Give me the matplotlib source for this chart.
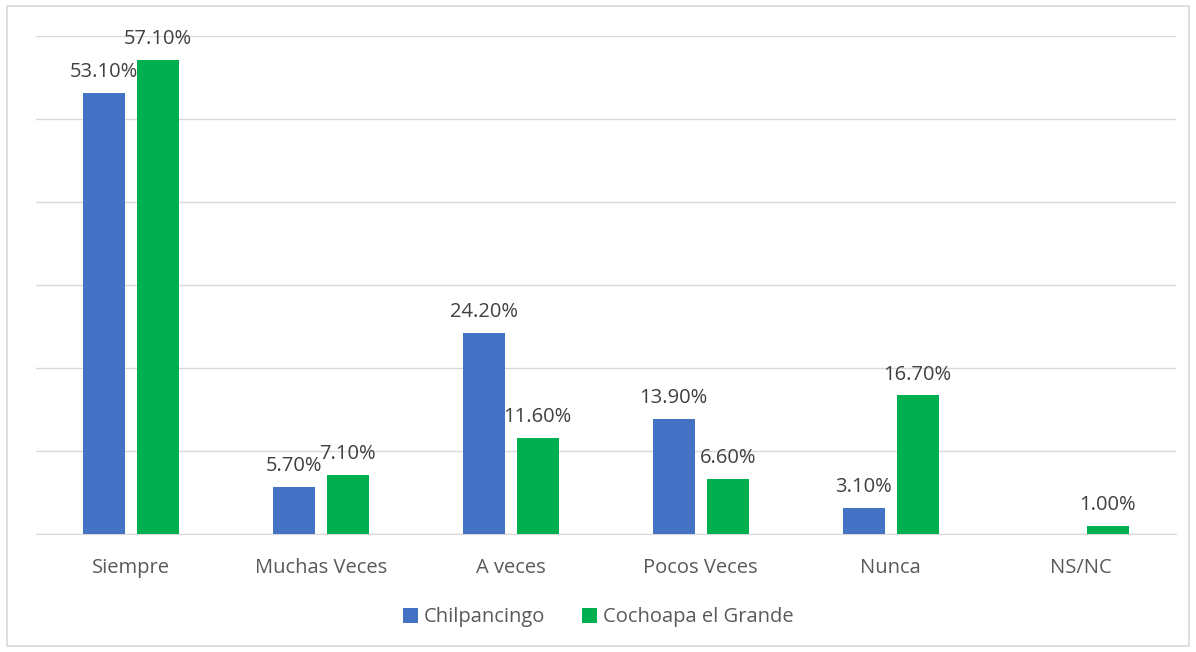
import matplotlib.pyplot as plt
import matplotlib.patches as patches
import numpy as np

categorias = ['Siempre', 'Muchas Veces', 'A veces', 'Pocos Veces', 'Nunca', 'NS/NC']
chilpancingo = [53.1, 5.7, 24.2, 13.9, 3.1, None]
cochoapa = [57.1, 7.1, 11.6, 6.6, 16.7, 1.0]
series = ['Chilpancingo', 'Cochoapa el Grande']

plt.rcParams['font.family'] = ['Open Sans', 'DejaVu Sans']

fig = plt.figure(figsize=(11.96, 6.52), dpi=100)
ax = fig.add_axes([0.030, 0.181, 0.953, 0.764])

x = np.arange(len(categorias))
w = 0.221
off = 0.142
colors = ['#4472C4', '#00B050']
fs = 14.5

for vals, sign, color, name in [(chilpancingo, -1, colors[0], series[0]), (cochoapa, 1, colors[1], series[1])]:
    xs = [xi + sign * off for xi, v in zip(x, vals) if v is not None]
    hs = [v for v in vals if v is not None]
    bars = ax.bar(xs, hs, width=w, color=color, label=name, zorder=3)
    for b, v in zip(bars, hs):
        ax.text(b.get_x() + b.get_width() / 2, v + 1.3, '%.2f%%' % v,
                ha='center', va='bottom', fontsize=fs, color='#404040', zorder=4)

ax.set_xlim(-0.5, len(categorias) - 0.5)
ax.set_ylim(0, 60)
ax.set_yticks(np.arange(0, 61, 10))
ax.yaxis.grid(True, color='#D9D9D9', linewidth=1, zorder=0)
ax.tick_params(axis='y', left=False, labelleft=False)
ax.tick_params(axis='x', bottom=False, pad=14, labelsize=fs, labelcolor='#595959')
ax.set_xticks(x)
ax.set_xticklabels(categorias)
for s in ['top', 'right', 'left']:
    ax.spines[s].set_visible(False)
ax.spines['bottom'].set_color('#D9D9D9')

leg = fig.legend(loc='center', bbox_to_anchor=(0.5, 0.053), ncol=2, frameon=False,
                 fontsize=fs, handlelength=0.75, handleheight=0.75, handletextpad=0.3,
                 columnspacing=1.8)
for t in leg.get_texts():
    t.set_color('#595959')

fig.patches.append(patches.Rectangle((0.006, 0.009), 0.988, 0.982, transform=fig.transFigure,
                                     fill=False, edgecolor='#D9D9D9', linewidth=1.2))

fig.savefig('out.png', dpi=100)
